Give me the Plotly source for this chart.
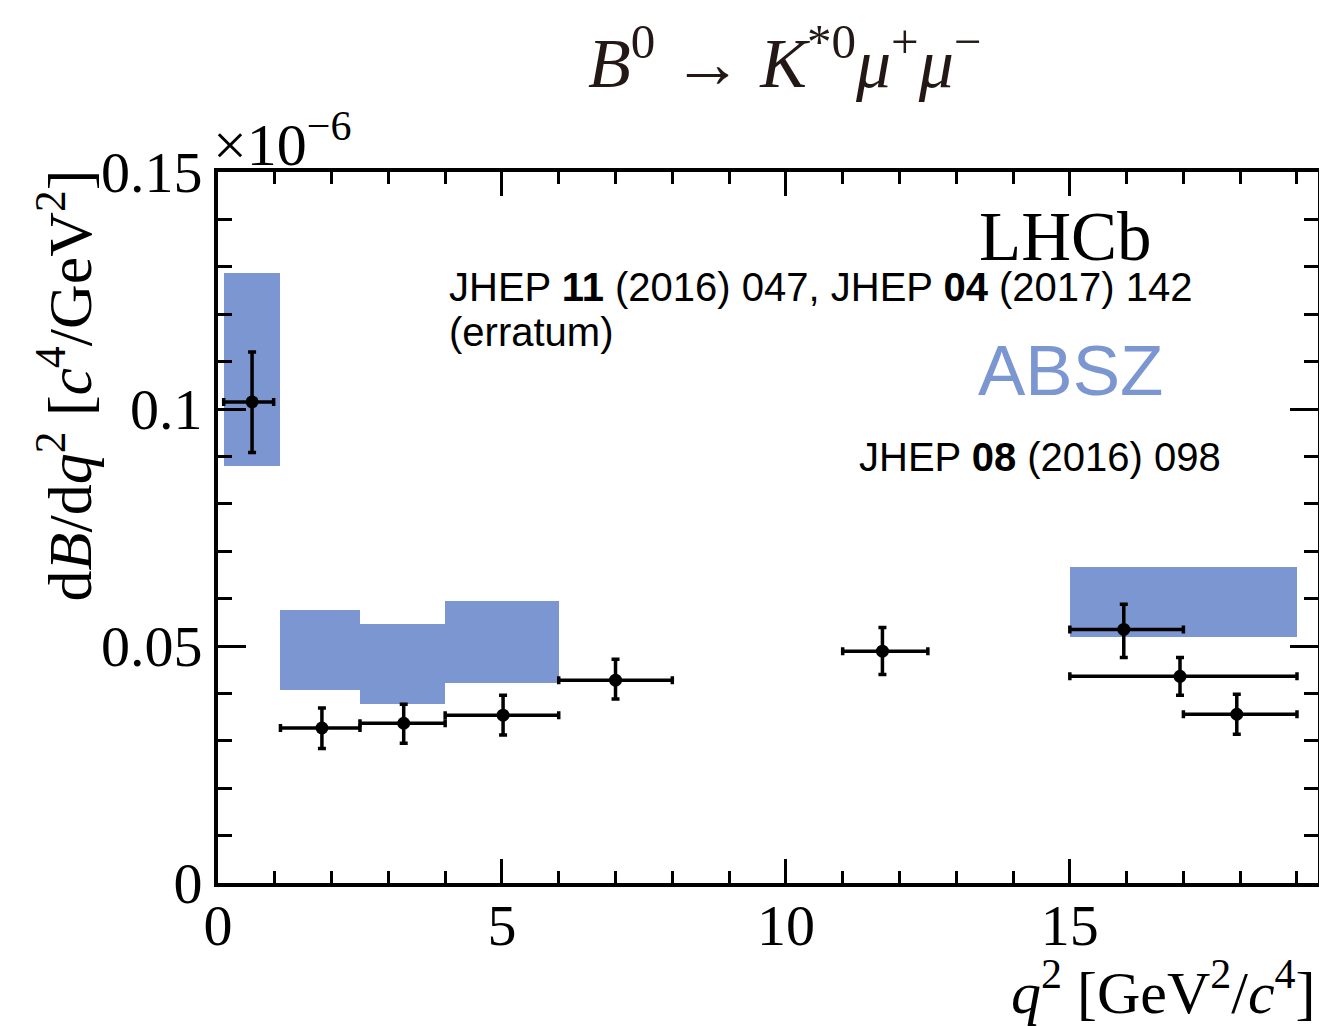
import plotly.graph_objects as go

# LHCb measurement (x bins and values, in units of 1e-6)
q2_lo = [0.1, 1.1, 2.5, 4.0, 6.0, 11.0, 15.0, 15.0, 17.0]
q2_hi = [0.98, 2.5, 4.0, 6.0, 8.0, 12.5, 17.0, 19.0, 19.0]
q2_ctr = [0.6, 1.83, 3.27, 5.02, 7.0, 11.7, 15.95, 16.94, 17.94]
dB = [0.1015, 0.0327, 0.0337, 0.0354, 0.0428, 0.0489, 0.0535, 0.0436, 0.0356]
dB_up = [0.1120, 0.0369, 0.0377, 0.0396, 0.0472, 0.0539, 0.0588, 0.0476, 0.0398]
dB_dn = [0.0908, 0.0284, 0.0295, 0.0312, 0.0388, 0.0440, 0.0476, 0.0396, 0.0314]

# ABSZ prediction bands
absz_lo_x = [0.1, 1.1, 2.5, 4.0, 15.0]
absz_hi_x = [1.1, 2.5, 4.0, 6.0, 19.0]
absz_lo = [0.0879, 0.0407, 0.0377, 0.0421, 0.0518]
absz_hi = [0.1287, 0.0577, 0.0546, 0.0596, 0.0666]

x_ticks = [0, 5, 10, 15]
y_ticks = [0, 0.05, 0.1, 0.15]
y_tick_text = ["0", "0.05", "0.1", "0.15"]

BLUE = "#7b96d0"
SERIF = "Liberation Serif"
SANS = "Liberation Sans"

fig = go.Figure()

fig.add_trace(go.Bar(
    x=[(a + b) / 2 for a, b in zip(absz_lo_x, absz_hi_x)],
    width=[b - a for a, b in zip(absz_lo_x, absz_hi_x)],
    base=absz_lo,
    y=[h - l for h, l in zip(absz_hi, absz_lo)],
    marker=dict(color=BLUE, line=dict(width=0)),
    showlegend=False, hoverinfo="skip",
))

fig.add_trace(go.Scatter(
    x=q2_ctr, y=dB, mode="markers",
    marker=dict(color="black", size=13, symbol="circle"),
    error_x=dict(type="data", symmetric=False,
                 array=[h - c for h, c in zip(q2_hi, q2_ctr)],
                 arrayminus=[c - l for c, l in zip(q2_ctr, q2_lo)],
                 color="black", thickness=3.5, width=4),
    error_y=dict(type="data", symmetric=False,
                 array=[u - v for u, v in zip(dB_up, dB)],
                 arrayminus=[v - d for v, d in zip(dB, dB_dn)],
                 color="black", thickness=3.5, width=4),
    showlegend=False,
))

fig.update_layout(
    width=1319, height=1018,
    margin=dict(l=210, r=9, t=164, b=143),
    paper_bgcolor="white", plot_bgcolor="white",
    bargap=0,
    font=dict(family=SERIF, color="black", size=58),
)

fig.update_xaxes(
    range=[0, 19.37], tickvals=x_ticks, ticktext=[str(v) for v in x_ticks],
    ticks="inside", ticklen=24, tickwidth=3, tickcolor="black",
    minor=dict(dtick=1, ticks="inside", ticklen=12, tickwidth=3, tickcolor="black"),
    showline=True, linewidth=4, linecolor="black", mirror="allticks",
    showgrid=False, zeroline=False, automargin=False,
    ticklabelstandoff=-12,
    tickfont=dict(family=SERIF, size=58),
)
fig.update_yaxes(
    range=[0, 0.15], tickvals=y_ticks, ticktext=y_tick_text,
    ticks="inside", ticklen=28, tickwidth=3, tickcolor="black",
    minor=dict(dtick=0.01, ticks="inside", ticklen=14, tickwidth=3, tickcolor="black"),
    showline=True, linewidth=4, linecolor="black", mirror="allticks",
    showgrid=False, zeroline=False, automargin=False,
    tickfont=dict(family=SERIF, size=58),
)

ann = [
    dict(text="<i>B</i><sup>0</sup> → <i>K</i><sup>*0</sup><i>μ</i><sup>+</sup><i>μ</i><sup>−</sup>",
         x=0.515, y=1.16, xanchor="center", yanchor="middle",
         font=dict(family=SERIF, size=70, color="#231815")),
    dict(text="×10<sup>−6</sup>", x=-0.006, y=1.045, xanchor="left", yanchor="middle",
         font=dict(family=SERIF, size=60)),
    dict(text="LHCb", x=0.77, y=0.909, xanchor="center", yanchor="middle",
         font=dict(family=SERIF, size=69)),
    dict(text="JHEP <b>11</b> (2016) 047, JHEP <b>04</b> (2017) 142",
         x=0.208, y=0.838, xanchor="left", yanchor="middle",
         font=dict(family=SANS, size=40)),
    dict(text="(erratum)", x=0.208, y=0.775, xanchor="left", yanchor="middle",
         font=dict(family=SANS, size=40)),
    dict(text="ABSZ", x=0.775, y=0.7215, xanchor="center", yanchor="middle",
         font=dict(family=SANS, size=71, color=BLUE)),
    dict(text="JHEP <b>08</b> (2016) 098", x=0.581, y=0.599, xanchor="left", yanchor="middle",
         font=dict(family=SANS, size=40)),
    dict(text="d<i>B</i>/d<i>q</i><sup>2</sup> [<i>c</i><sup>4</sup>/GeV<sup>2</sup>]",
         x=-0.139, y=0.70, xanchor="center", yanchor="middle", textangle=-90,
         font=dict(family=SERIF, size=62)),
    dict(text="<i>q</i><sup>2</sup> [GeV<sup>2</sup>/<i>c</i><sup>4</sup>]",
         x=1.0, y=-0.148, xanchor="right", yanchor="middle",
         font=dict(family=SERIF, size=60)),
]
for a in ann:
    a.update(xref="paper", yref="paper", showarrow=False)
    fig.add_annotation(**a)

fig.write_html("out.html")
